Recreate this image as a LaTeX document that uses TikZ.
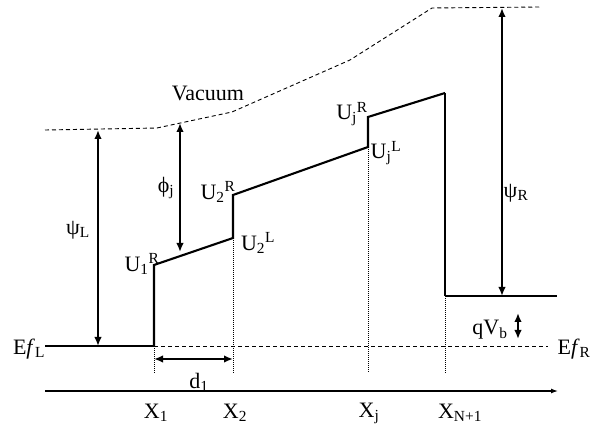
\documentclass[tikz,border=0pt]{standalone}
\usepackage{fontspec}
\setmainfont{Liberation Serif}
\usetikzlibrary{arrows.meta}
\begin{document}
\begin{tikzpicture}[x=1pt,y=-1pt,
  lbl/.style={inner sep=0pt, font=\fontsize{22}{25}\selectfont},
  band/.style={line width=2.1pt, line join=miter},
  vac/.style={line width=0.9pt, dash pattern=on 4pt off 3pt},
  guide/.style={line width=0.9pt, dash pattern=on 1pt off 1pt},
  dim/.style={line width=2.6pt, {Latex[length=9pt,width=7.5pt]}-{Latex[length=9pt,width=7.5pt]}},
  axis/.style={line width=1.3pt, -{Latex[length=7pt,width=5pt]}}
]
\useasboundingbox (0,0) rectangle (594,427);
% vacuum level
\coordinate (v1) at (45,130);
\coordinate (v2) at (157,128);
\coordinate (v3) at (232,112);
\coordinate (v4) at (350,60);
\coordinate (v5) at (432,8);
\coordinate (v6) at (541,7);
\draw[vac] (v1) -- (v2) -- (v3) -- (v4) -- (v5) -- (v6);
% band profile
\coordinate (efl) at (45,346);
\coordinate (b0) at (154,346);
\coordinate (b1) at (154,265);
\coordinate (b2) at (233,238);
\coordinate (b3) at (233,195);
\coordinate (b4) at (368,147);
\coordinate (b5) at (368,117);
\coordinate (b6) at (445,93);
\coordinate (b7) at (445,296);
\coordinate (b8) at (557,296);
% right Fermi level
\coordinate (efr) at (548,346);
\draw[vac] (b0) -- (efr);
% guides
\coordinate (g1) at (154,373);
\coordinate (g2) at (233,373);
\coordinate (g3) at (368,373);
\coordinate (g4) at (445,373);
\draw[guide] (b0) -- (g1);
\draw[guide] (b2) -- (g2);
\draw[guide] (b4) -- (g3);
\draw[guide] (b7) -- (g4);
\draw[line width=2.8pt] (efl) -- (b0);
\draw[band] (b0) -- (b1) -- (b2) -- (b3) -- (b4) -- (b5) -- (b6);
\draw[line width=1.4pt] (b6) -- (b7);
\draw[band] (b7) -- (b8);
% d1
\coordinate (d1a) at (154,359);
\coordinate (d1b) at (233,359);
\draw[dim] (d1a) -- (d1b);
% axis
\coordinate (ax1) at (45,391);
\coordinate (ax2) at (558,391);
\draw[axis] (ax1) -- (ax2);
% psi L
\coordinate (pla) at (98,130);
\coordinate (plb) at (98,346);
\draw[dim] (pla) -- (plb);
% phi j
\coordinate (pja) at (180,123);
\coordinate (pjb) at (180,252);
\draw[dim] (pja) -- (pjb);
% psi R
\coordinate (pra) at (502,8);
\coordinate (prb) at (502,296);
\draw[dim] (pra) -- (prb);
% qVb
\coordinate (qa) at (518,313);
\coordinate (qb) at (518,339);
\draw[dim] (qa) -- (qb);
% labels
\node[lbl] (tvac) at (208,93) {Vacuum};
\node[lbl] (tpl) at (78,230) {ψ\textsubscript{L}};
\node[lbl] (tpj) at (166,188) {ϕ\textsubscript{j}};
\node[lbl] (tpr) at (516,193) {ψ\textsubscript{R}};
\node[lbl] (tu1r) at (142,264) {U\textsubscript{1}\textsuperscript{R}};
\node[lbl] (tu2l) at (258,243) {U\textsubscript{2}\textsuperscript{L}};
\node[lbl] (tu2r) at (218,192) {U\textsubscript{2}\textsuperscript{R}};
\node[lbl] (tujr) at (352,114) {U\textsubscript{j}\textsuperscript{R}};
\node[lbl] (tujl) at (386,153) {U\textsubscript{j}\textsuperscript{L}};
\node[lbl] (tefl) at (29,349) {E\textit{f}\textsubscript{L}};
\node[lbl] (tefr) at (574,349) {E\textit{f}\textsubscript{R}};
\node[lbl] (tqv) at (490,330) {qV\textsubscript{b}};
\node[lbl] (td1) at (199,382) {d\textsubscript{1}};
\node[lbl] (tx1) at (156,413) {X\textsubscript{1}};
\node[lbl] (tx2) at (235,413) {X\textsubscript{2}};
\node[lbl] (txj) at (369,413) {X\textsubscript{j}};
\node[lbl] (txn) at (460,413) {X\textsubscript{N+1}};
\end{tikzpicture}
\end{document}
